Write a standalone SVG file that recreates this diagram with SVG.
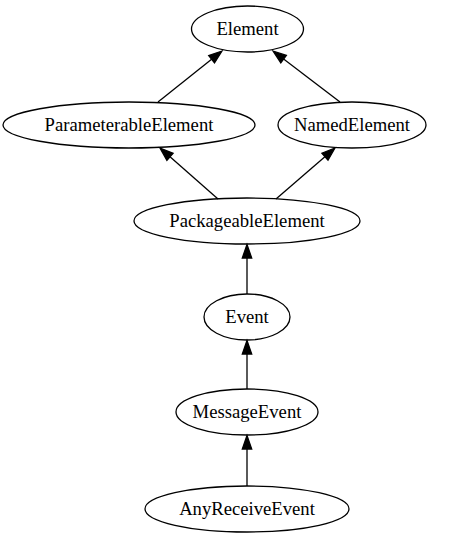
<svg xmlns="http://www.w3.org/2000/svg" width="463" height="539" viewBox="0 0 463 539">
<style>
.n ellipse{fill:none;stroke:#000;stroke-width:1.3}
.n text{font-family:"Liberation Serif","Times New Roman",serif;font-size:18.67px;text-anchor:middle;fill:#000}
#edges line{stroke:#000;stroke-width:1.3}
#edges polygon{fill:#000;stroke:#000;stroke-width:1.3}
</style>
<rect width="463" height="539" fill="#fff"/>
<g id="edges">
<line x1="158" y1="102" x2="211.6" y2="59.3"/><polygon points="222,51 208.7,55.6 214.5,62.9"/>
<line x1="340" y1="102" x2="283.6" y2="59.1"/><polygon points="273,51 286.4,55.4 280.8,62.8"/>
<line x1="218" y1="199" x2="170" y2="156.8"/><polygon points="160,148 173.1,153.3 166.9,160.3"/>
<line x1="276" y1="199" x2="324.9" y2="156.7"/><polygon points="335,148 328,160.2 321.9,153.2"/>
<line x1="247" y1="294" x2="247" y2="258"/><polygon points="247,244.5 242.3,258 251.7,258"/>
<line x1="247" y1="389" x2="247" y2="354"/><polygon points="247,340.5 242.3,354 251.7,354"/>
<line x1="247" y1="486" x2="247" y2="449"/><polygon points="247,435.5 242.3,449 251.7,449"/>
</g>
<g id="Element" class="n"><ellipse cx="247.5" cy="29" rx="56" ry="23"/><text x="247.5" y="35">Element</text></g>
<g id="ParameterableElement" class="n"><ellipse cx="129" cy="125" rx="126" ry="23"/><text x="129" y="131">ParameterableElement</text></g>
<g id="NamedElement" class="n"><ellipse cx="352" cy="125" rx="74" ry="23"/><text x="352" y="131">NamedElement</text></g>
<g id="PackageableElement" class="n"><ellipse cx="247" cy="221" rx="113" ry="23"/><text x="247" y="227">PackageableElement</text></g>
<g id="Event" class="n"><ellipse cx="247" cy="317" rx="43" ry="23"/><text x="247" y="323">Event</text></g>
<g id="MessageEvent" class="n"><ellipse cx="247" cy="412" rx="71" ry="23"/><text x="247" y="418">MessageEvent</text></g>
<g id="AnyReceiveEvent" class="n"><ellipse cx="247" cy="509" rx="102" ry="23"/><text x="247" y="515">AnyReceiveEvent</text></g>
</svg>
